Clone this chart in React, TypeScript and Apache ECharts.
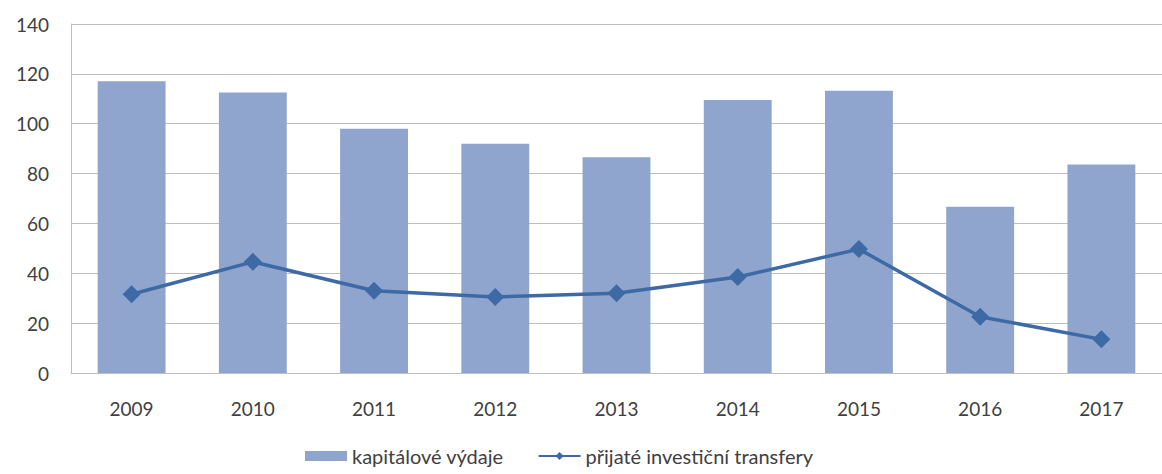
import React, { useEffect, useRef } from "react";
import * as echarts from "echarts";

const years = ["2009", "2010", "2011", "2012", "2013", "2014", "2015", "2016", "2017"];
const kapitaloveVydaje = [117, 112.5, 98, 92, 86.5, 109.5, 113.2, 66.7, 83.6];
const prijateTransfery = [31.6, 44.6, 33, 30.5, 32, 38.5, 49.7, 22.6, 13.5];
const yTicks = { min: 0, max: 140, interval: 20 };

export default function App() {
  const ref = useRef<HTMLDivElement>(null);
  useEffect(() => {
    if (!ref.current) return;
    const chart = echarts.init(ref.current, undefined, { renderer: "svg" });
    const font = "Lato, 'Open Sans', sans-serif";
    chart.setOption({
      animation: false,
      backgroundColor: "#ffffff",
      grid: { left: 71, right: 0, top: 24, bottom: 101, containLabel: false },
      legend: {
        bottom: 3,
        left: 300,
        itemGap: 34,
        itemWidth: 42,
        itemHeight: 10,
        textStyle: { fontFamily: font, fontSize: 20, color: "#404040" },
        data: [
          { name: "kapitálové výdaje", icon: "rect" },
          { name: "přijaté investiční transfery" },
        ],
      },
      xAxis: {
        type: "category",
        data: years,
        axisLine: { show: true, lineStyle: { color: "#BFBFBF", width: 1 } },
        axisTick: { show: false },
        axisLabel: { fontFamily: font, fontSize: 19, color: "#404040", margin: 26 },
      },
      yAxis: {
        type: "value",
        min: yTicks.min,
        max: yTicks.max,
        interval: yTicks.interval,
        axisLine: { show: true, lineStyle: { color: "#BFBFBF", width: 1 } },
        axisTick: { show: false },
        splitLine: { show: true, lineStyle: { color: "#BFBFBF", width: 1 } },
        axisLabel: { fontFamily: font, fontSize: 19, color: "#404040", margin: 22 },
      },
      series: [
        {
          name: "kapitálové výdaje",
          type: "bar",
          data: kapitaloveVydaje,
          barWidth: "56%",
          itemStyle: { color: "#8FA5CE" },
        },
        {
          name: "přijaté investiční transfery",
          type: "line",
          data: prijateTransfery,
          symbol: "diamond",
          symbolSize: 18,
          lineStyle: { color: "#3D69A5", width: 3.5 },
          itemStyle: { color: "#3D69A5" },
        },
      ],
    });
    return () => chart.dispose();
  }, []);
  return (
    <div
      ref={ref}
      style={{ position: "absolute", left: 0, top: 0, width: 1162, height: 474 }}
    />
  );
}
